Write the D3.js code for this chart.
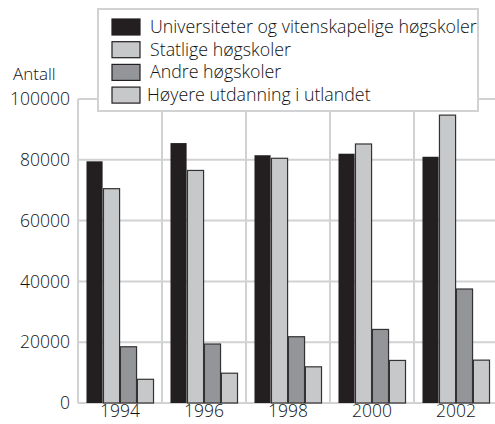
<!DOCTYPE html>
<html lang="no">
<head>
<meta charset="UTF-8">
<script src="https://d3js.org/d3.v7.min.js"></script>
<style>
    body { margin: 0; background: #fff; }
    svg text { font-family: 'Open Sans', sans-serif; font-weight: 300; fill: #111; }
</style>
</head>
<body>
<svg id="chart" width="495" height="424"></svg>
<script>
// data
let years = ['1994', '1996', '1998', '2000', '2002']
let seriesNames = [
    'Universiteter og vitenskapelige høgskoler',
    'Statlige høgskoler',
    'Andre høgskoler',
    'Høyere utdanning i utlandet'
]
let universiteter = [79500, 85500, 81500, 82000, 81000]
let statlige = [70500, 76500, 80500, 85200, 94700]
let andre = [18500, 19400, 21800, 24200, 37500]
let utlandet = [7800, 9800, 11900, 14000, 14100]
let yTicks = [0, 20000, 40000, 60000, 80000, 100000]

let colors = ['#231f20', '#c7c8ca', '#939598', '#c7c8ca']
let series = [universiteter, statlige, andre, utlandet]

let svg = d3.select('#chart')
let margin = {left: 78, right: -3, top: 99, bottom: 21}
let width = 495 - margin.left - margin.right
let height = 424 - margin.top - margin.bottom

let g = svg.append('g').attr('transform', `translate(${margin.left},${margin.top})`)

let x = d3.scaleBand().domain(years).range([0, width])
let x1 = d3.scaleBand().domain(d3.range(series.length)).range([0, x.bandwidth()]).paddingOuter(0.5).paddingInner(0.05)
let y = d3.scaleLinear().domain([0, 100000]).range([height, 0])

// grid
g.selectAll('.hgrid')
    .data(yTicks)
    .enter()
    .append('line')
    .attr('x1', 0).attr('x2', width)
    .attr('y1', d => y(d)).attr('y2', d => y(d))
    .attr('stroke', '#d1d2d4').attr('stroke-width', 2)

g.selectAll('.vgrid')
    .data(years)
    .enter()
    .append('line')
    .attr('x1', d => x(d)).attr('x2', d => x(d))
    .attr('y1', 0).attr('y2', height)
    .attr('stroke', '#d1d2d4').attr('stroke-width', 2)

// bars
series.forEach((values, i) => {
    g.selectAll('.bar' + i)
        .data(values)
        .enter()
        .append('rect')
        .attr('x', (d, j) => x(years[j]) + x1(i))
        .attr('y', d => y(d))
        .attr('width', x1.bandwidth())
        .attr('height', d => height - y(d))
        .attr('fill', colors[i])
        .attr('stroke', i === 0 ? 'none' : '#333')
        .attr('stroke-width', 1.2)
})

// axes
let yAxis = g.append('g').call(d3.axisLeft(y).tickValues(yTicks).tickSize(0).tickPadding(8).tickFormat(d3.format('d')))
yAxis.select('.domain').remove()
yAxis.selectAll('text').style('font-size', '17.5px')

let xAxis = g.append('g').attr('transform', `translate(0,${height})`).call(d3.axisBottom(x).tickSize(0).tickPadding(2))
xAxis.select('.domain').remove()
xAxis.selectAll('text').style('font-size', '17.5px')

svg.append('text').attr('x', 13).attr('y', 80).style('font-size', '17px').text('Antall')

// legend
let legend = svg.append('g').attr('transform', 'translate(98,9)')
legend.append('rect')
    .attr('width', 380).attr('height', 102)
    .attr('fill', '#fff').attr('stroke', '#d1d2d4').attr('stroke-width', 2)

seriesNames.forEach((name, i) => {
    let row = legend.append('g').attr('transform', `translate(14,${10 + i * 22.7})`)
    row.append('rect')
        .attr('width', 28).attr('height', 16)
        .attr('fill', colors[i]).attr('stroke', '#231f20').attr('stroke-width', 1.2)
    row.append('text')
        .attr('x', i === 3 ? 35 : 38).attr('y', 14)
        .style('font-size', '17.8px')
        .text(name)
})
</script>
</body>
</html>
